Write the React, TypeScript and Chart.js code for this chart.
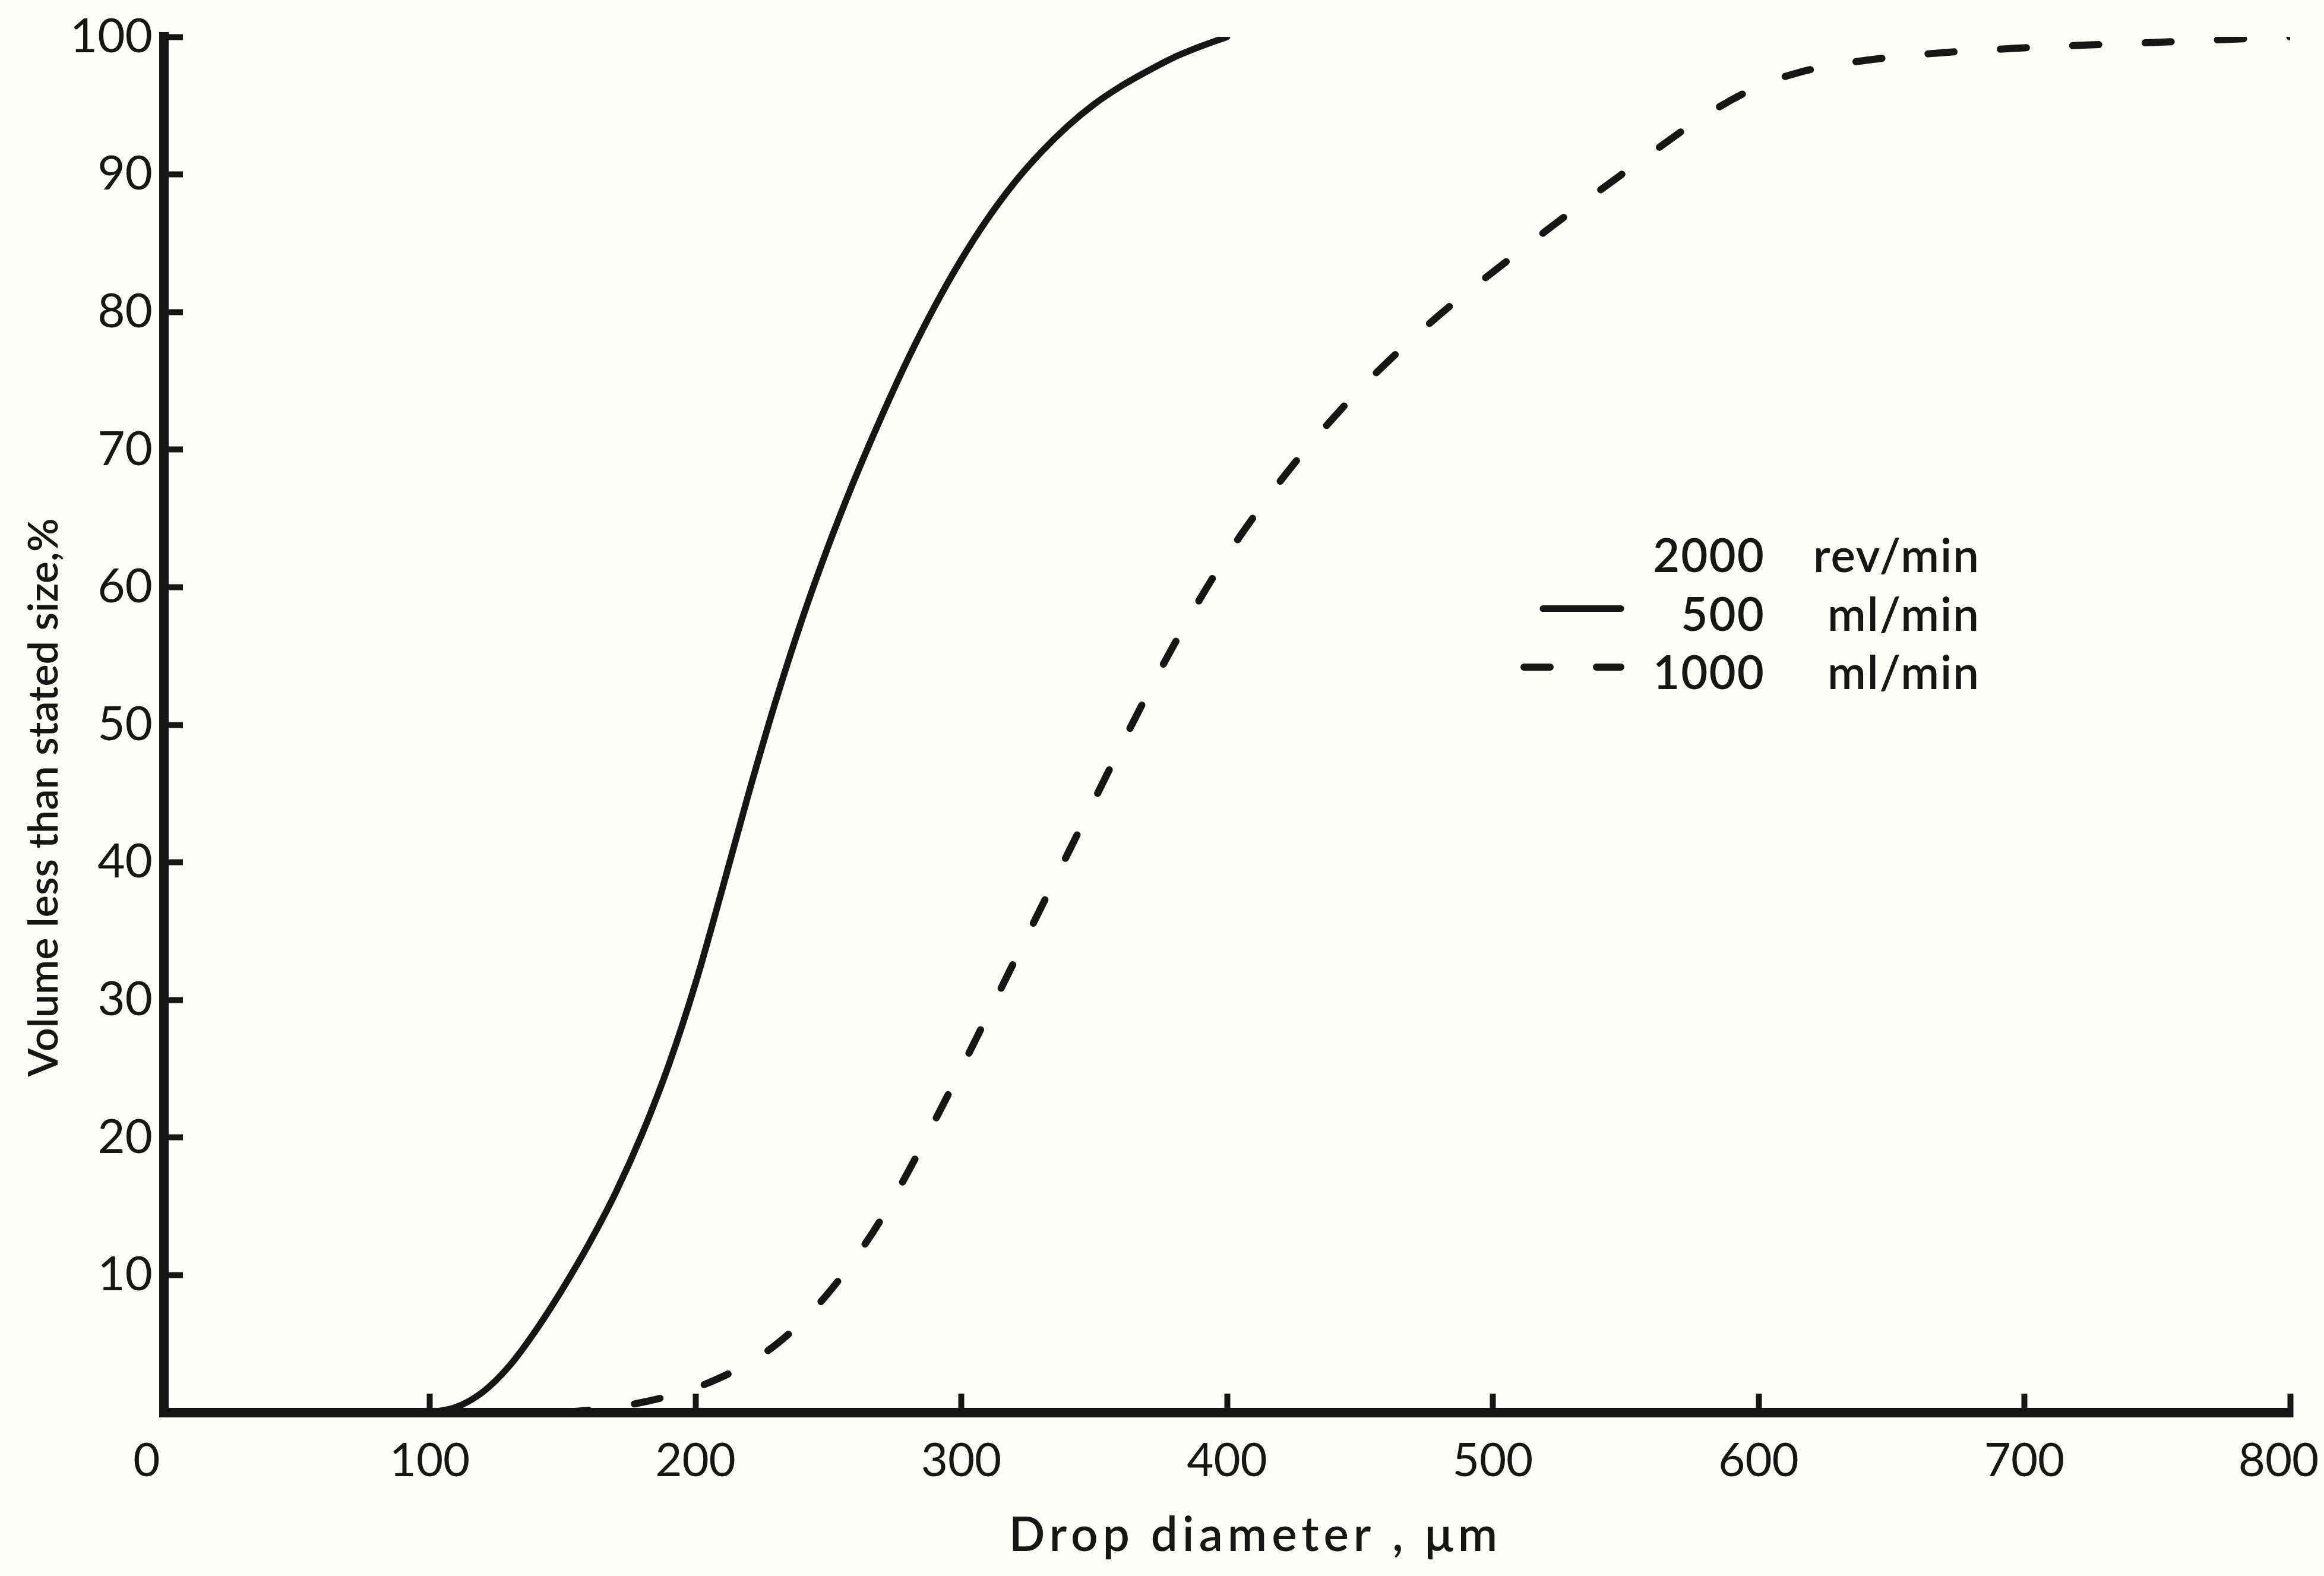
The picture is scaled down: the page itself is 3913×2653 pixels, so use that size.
import React, { useEffect, useRef } from "react";
import { Chart, registerables } from "chart.js";

Chart.register(...registerables);

// ---- data ----
// 2000 rev/min, 500 ml/min  (solid)
const flow500Diameter = [100, 110, 120, 130, 140, 150, 160, 170, 180, 190, 200, 210, 220, 230, 240, 250, 260, 270, 280, 290, 300, 310, 320, 330, 340, 350, 360, 370, 380, 390, 400];
const flow500Volume = [0, 0.4, 1.5, 3.4, 6.0, 9.0, 12.3, 16.0, 20.3, 25.3, 31.2, 38.0, 45.0, 51.6, 57.6, 63.0, 67.9, 72.4, 76.6, 80.4, 83.8, 86.8, 89.4, 91.6, 93.5, 95.1, 96.4, 97.5, 98.5, 99.3, 100];

// 2000 rev/min, 1000 ml/min  (dashed)
const flow1000Diameter = [150, 170, 190, 200, 210, 220, 230, 240, 250, 260, 270, 280, 290, 300, 310, 320, 330, 340, 350, 360, 370, 380, 390, 400, 410, 420, 430, 440, 450, 460, 470, 480, 490, 500, 520, 540, 560, 580, 600, 615, 630, 660, 700, 750, 800];
const flow1000Volume = [0, 0.4, 1.2, 1.8, 2.6, 3.6, 4.9, 6.6, 8.7, 11.2, 14.1, 17.5, 21.2, 25.0, 28.9, 32.8, 36.7, 40.6, 44.5, 48.4, 52.2, 55.8, 59.2, 62.3, 65.1, 67.7, 70.1, 72.3, 74.4, 76.3, 78.1, 79.8, 81.4, 82.9, 85.9, 88.8, 91.6, 94.3, 96.4, 97.4, 98.0, 98.7, 99.2, 99.6, 100];

const seriesLabels = ["500 ml/min", "1000 ml/min"];
const legendHeader = "2000 rev/min";

const xTickValues = [0, 100, 200, 300, 400, 500, 600, 700, 800];
const yTickValues = [0, 10, 20, 30, 40, 50, 60, 70, 80, 90, 100];

const xTitle = "Drop diameter , \u03bcm";
const yTitle = "Volume less than stated size,%";

// ---- styling ----
const INK = "#161616";
const FONT = "Lato, 'DejaVu Sans', sans-serif";
const W = 3905;
const H = 2637;

// draw a scale's title with extra letter spacing (Chart.js draws it)
function spacedTitle(scale: any, spacing: string) {
  if (scale.__spaced) return;
  scale.__spaced = true;
  const base = Object.getPrototypeOf(scale).drawTitle;
  scale.drawTitle = function () {
    const ctx = this.ctx;
    ctx.save();
    ctx.letterSpacing = spacing;
    base.call(this);
    ctx.restore();
  };
}

const flowLegend = {
  id: "flowLegend",
  afterDatasetsDraw(chart: any) {
    const o = chart.options.plugins.flowLegend;
    const ctx = chart.ctx;
    ctx.save();
    ctx.fillStyle = INK;
    ctx.strokeStyle = INK;
    ctx.font = `600 ${o.fontSize}px ${FONT}`;
    ctx.letterSpacing = o.spacing;
    ctx.textBaseline = "alphabetic";
    const rows: { text: string; ds: any }[] = [{ text: o.header, ds: null }];
    chart.data.datasets.forEach((ds: any) => rows.push({ text: ds.label, ds }));
    rows.forEach((row, i) => {
      const y = o.top + i * o.rowGap;
      const sp = row.text.indexOf(" ");
      const num = row.text.slice(0, sp);
      const unit = row.text.slice(sp + 1);
      ctx.textAlign = "right";
      ctx.fillText(num, o.numRight, y);
      ctx.fillText(unit, o.unitRight, y);
      if (row.ds) {
        ctx.save();
        ctx.lineWidth = row.ds.borderWidth;
        ctx.lineCap = "round";
        ctx.setLineDash(row.ds.borderDash || []);
        const x0 = row.ds.borderDash && row.ds.borderDash.length ? o.dashStart : o.solidStart;
        ctx.beginPath();
        ctx.moveTo(x0, y - o.lineLift);
        ctx.lineTo(o.sampleEnd, y - o.lineLift);
        ctx.stroke();
        ctx.restore();
      }
    });
    ctx.restore();
  },
};

export default function App() {
  const ref = useRef<HTMLCanvasElement | null>(null);

  useEffect(() => {
    document.body.style.background = "#fefdf8";
    const canvas = ref.current;
    if (!canvas) return;
    const chart = new Chart(canvas, {
      type: "line",
      data: {
        datasets: [
          {
            label: seriesLabels[0],
            data: flow500Diameter.map((x, i) => ({ x, y: flow500Volume[i] })),
            borderColor: INK,
            borderWidth: 11,
            borderCapStyle: "round",
            pointRadius: 0,
            cubicInterpolationMode: "monotone",
            fill: false,
          },
          {
            label: seriesLabels[1],
            data: flow1000Diameter.map((x, i) => ({ x, y: flow1000Volume[i] })),
            borderColor: INK,
            borderWidth: 12,
            borderDash: [44, 78],
            borderCapStyle: "round",
            pointRadius: 0,
            cubicInterpolationMode: "monotone",
            fill: false,
          },
        ],
      },
      plugins: [flowLegend],
      options: {
        responsive: false,
        animation: false,
        devicePixelRatio: 1,
        layout: { padding: { top: 54, right: 57, bottom: 0, left: 0 } },
        plugins: {
          legend: { display: false },
          tooltip: { enabled: false },
          flowLegend: {
            header: legendHeader,
            fontSize: 78,
            spacing: "2px",
            top: 955,
            rowGap: 98.5,
            numRight: 2964,
            unitRight: 3326,
            solidStart: 2590,
            dashStart: 2558,
            sampleEnd: 2721,
            lineLift: 37,
          },
        } as any,
        scales: {
          x: {
            type: "linear",
            min: 0,
            max: 800,
            afterBuildTicks: (s: any) => {
              s.ticks = xTickValues.map((v) => ({ value: v }));
            },
            afterFit: (s: any) => {
              s.height = 267;
              s.paddingLeft = 0;
              s.paddingRight = 0;
              spacedTitle(s, "8px");
            },
            ticks: {
              autoSkip: false,
              maxRotation: 0,
              padding: 67,
              color: INK,
              font: { family: FONT, size: 78 },
              callback: (v: any) =>
                v === 0 ? "0\u2003" : v === 800 ? "800\u2002" : String(v),
            },
            grid: {
              drawOnChartArea: false,
              drawTicks: true,
              tickLength: -32,
              tickWidth: 10,
              tickColor: INK,
            },
            border: { display: true, width: 16, color: INK },
            title: {
              display: true,
              text: "\u2002\u2002" + xTitle,
              color: INK,
              font: { family: FONT, size: 80, weight: "600" },
              padding: { top: 0, bottom: 12 },
            },
          },
          y: {
            type: "linear",
            min: 0,
            max: 100,
            afterBuildTicks: (s: any) => {
              s.ticks = yTickValues.map((v) => ({ value: v }));
            },
            afterFit: (s: any) => {
              s.width = 268;
              s.paddingTop = 0;
              s.paddingBottom = 0;
            },
            ticks: {
              padding: 51,
              color: INK,
              font: { family: FONT, size: 80 },
              callback: (v: any) => (v === 0 ? "" : String(v)),
            },
            grid: {
              drawOnChartArea: false,
              drawTicks: true,
              tickLength: -32,
              tickWidth: 10,
              tickColor: INK,
            },
            border: { display: true, width: 16, color: INK },
            title: {
              display: true,
              text: yTitle + "\u2003\u2003\u2003\u2003\u2002",
              color: INK,
              font: { family: FONT, size: 70, weight: "600" },
              padding: { top: 24, bottom: 0 },
            },
          },
        },
      } as any,
    });
    return () => chart.destroy();
  }, []);

  return (
    <div style={{ width: W, height: H }}>
      <canvas ref={ref} width={W} height={H} style={{ width: W, height: H, display: "block" }} />
    </div>
  );
}
